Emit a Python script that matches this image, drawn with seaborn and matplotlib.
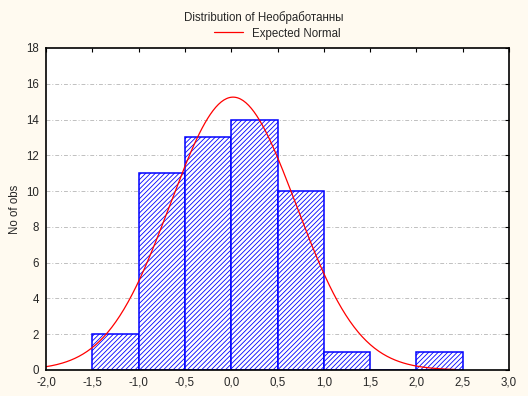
import numpy as np
import pandas as pd
import matplotlib.pyplot as plt
import seaborn as sns

# histogram bins (left edges) and counts
bin_left = [-1.5, -1.0, -0.5, 0.0, 0.5, 1.0, 1.5, 2.0]
counts = [2, 11, 13, 14, 10, 1, 0, 1]
bin_width = 0.5

# expected normal parameters
norm_mean = 0.02
norm_sd = 0.68
curve_start = -2.0
curve_end = 2.42

x_ticks = [-2.0, -1.5, -1.0, -0.5, 0.0, 0.5, 1.0, 1.5, 2.0, 2.5, 3.0]
y_ticks = [0, 2, 4, 6, 8, 10, 12, 14, 16, 18]

df = pd.DataFrame({"x": np.array(bin_left) + bin_width / 2, "n": counts})
edges = list(bin_left) + [bin_left[-1] + bin_width]
total = sum(counts)

sns.set_style("white")
plt.rcParams["font.family"] = ["Liberation Sans", "DejaVu Sans"]
plt.rcParams["hatch.color"] = "#0000ff"
plt.rcParams["hatch.linewidth"] = 0.6

fig = plt.figure(figsize=(5.28, 3.96), dpi=100, facecolor="#fffaf0")
ax = fig.add_axes([46 / 528, 26 / 396, 463 / 528, 322 / 396])
ax.set_facecolor("white")

sns.histplot(data=df, x="x", weights="n", bins=edges, ax=ax, stat="count",
             color="white", edgecolor="#0000ff", linewidth=1.1, alpha=1,
             hatch="///////")

xs = np.linspace(curve_start, curve_end, 300)
ys = total * bin_width / (norm_sd * np.sqrt(2 * np.pi)) * np.exp(-(xs - norm_mean) ** 2 / (2 * norm_sd ** 2))
sns.lineplot(x=xs, y=ys, ax=ax, color="#ff0000", linewidth=0.9, label="Expected Normal")

ax.set_xlim(-2.0, 3.0)
ax.set_ylim(0, 18)
ax.set_xticks(x_ticks)
ax.set_xticklabels([f"{v:.1f}".replace(".", ",") for v in x_ticks])
ax.set_yticks(y_ticks)
ax.set_yticklabels([str(v) for v in y_ticks])
for y in y_ticks[1:-1]:
    ax.axhline(y, color="#c0c0c0", linestyle=(0, (4, 2, 1, 2)), linewidth=0.7, zorder=0)
ax.set_axisbelow(True)
ax.set_xlabel("")
ax.set_ylabel("No of obs", fontsize=8.3)
ax.tick_params(axis="both", labelsize=8.3, direction="in", length=3, color="black",
               top=True, right=True)
ax.tick_params(axis="x", pad=5)
ax.tick_params(axis="y", pad=5)
for s in ax.spines.values():
    s.set_color("black")
    s.set_linewidth(1.2)

fig.text(0.5, 0.955, "Distribution of Необработанны", ha="center", va="center", fontsize=8.3)
ax.legend(loc="center", bbox_to_anchor=(0.5, 1.045), frameon=False, fontsize=8.3,
          handlelength=2.5)

fig.savefig("out.png", dpi=100, facecolor=fig.get_facecolor())
